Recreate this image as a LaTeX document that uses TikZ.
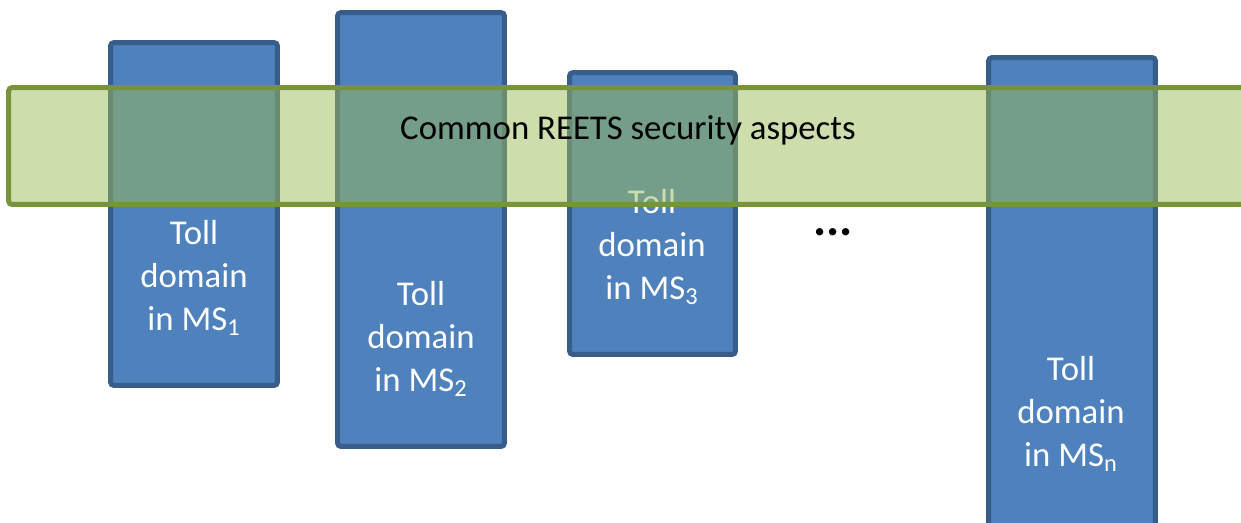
\documentclass[tikz,border=0pt]{standalone}
\usepackage{fontspec}
\setmainfont{Carlito}
\usepackage{tikz}
\usetikzlibrary{positioning}
\definecolor{tollblue}{HTML}{4F81BD}
\definecolor{tolledge}{HTML}{385D8A}
\definecolor{reetsgreen}{HTML}{9BBB59}
\definecolor{reetsedge}{HTML}{77933C}

\begin{document}
\begin{tikzpicture}[x=0.02cm, y=-0.02cm, tollbox/.style={draw=tolledge, fill=tollblue, line width=0.1cm, rounded corners=2pt, inner sep=0pt, minimum width=3.34cm}, tolltext/.style={text=white, align=center, font=\fontsize{19.8}{24.5}\selectfont}, band/.style={draw=reetsedge, fill=reetsgreen, fill opacity=0.5, line width=0.1cm, rounded corners=2pt, inner sep=0pt, minimum width=25.03cm, minimum height=2.34cm}, bandtext/.style={text=black, font=\fontsize{19.8}{24.5}\selectfont}]
\useasboundingbox (0,0) rectangle (1241,522);
\clip (0,0) rectangle (1241,522);
\node[tollbox,minimum height=6.86cm] (ms1) at (194,214) {};
\node[tollbox,minimum height=8.68cm] (ms2) at (421,229.5) {};
\node[tollbox,minimum width=3.32cm,minimum height=5.64cm] (ms3) at (652.5,213.5) {};
\node[tollbox,minimum height=9.65cm] (msn) at (1072,298.75) {};
\node[tolltext] (t1) at (194,278) {Toll\\domain\\in MS\textsubscript{1}};
\node[tolltext] (t2) at (421,339) {Toll\\domain\\in MS\textsubscript{2}};
\node[tolltext] (t3) at (652,247) {Toll\\domain\\in MS\textsubscript{3}};
\node[tolltext] (tn) at (1071,414) {Toll\\domain\\in MS\textsubscript{n}};
\node[font=\fontsize{28}{34}\selectfont\bfseries] (dots) at (833,232) {...};
\node[band] (reets) at (634.25,146) {};
\node[bandtext] (common) at (628,130) {Common REETS security aspects};
\end{tikzpicture}
\end{document}
